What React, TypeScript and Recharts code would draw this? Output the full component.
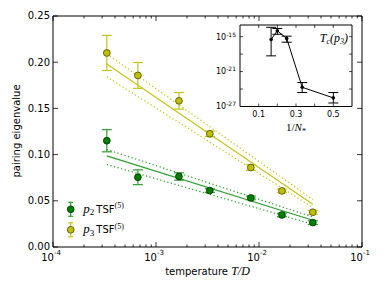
import { ScatterChart, Scatter, XAxis, YAxis, ErrorBar, CartesianGrid } from 'recharts'

// main plot data
const temps = [3.33e-4, 6.67e-4, 1.67e-3, 3.33e-3, 8.33e-3, 1.67e-2, 3.33e-2]
const p2Vals = [0.115, 0.0755, 0.0763, 0.0611, 0.0531, 0.0347, 0.0264]
const p2Errs = [0.012, 0.008, 0.004, 0.002, 0.002, 0.002, 0.002]
const p3Vals = [0.21, 0.1857, 0.1582, 0.1225, 0.086, 0.0607, 0.0376]
const p3Errs = [0.019, 0.014, 0.009, 0.003, 0.003, 0.002, 0.002]

// fit lines (end points)
const fitT = [3.33e-4, 3.33e-2]
const p2Fit = [0.0986, 0.0289]
const p2FitHi = [0.1055, 0.0325]
const p2FitLo = [0.0893, 0.0246]
const p3Fit = [0.198, 0.0463]
const p3FitHi = [0.209, 0.0514]
const p3FitLo = [0.1842, 0.0427]

// inset data
const invN = [1 / 6, 1 / 5, 1 / 4, 1 / 3, 1 / 2]
const tcVals = [3.3e-16, 1e-14, 5e-16, 2e-24, 3e-26]
const tcLo = [5e-19, 2.5e-15, 1.1e-16, 2.5e-25, 4e-27]
const tcHi = [4e-14, 2.5e-14, 1.2e-15, 1.3e-23, 2.5e-25]

// ticks
const xMajor = [1e-4, 1e-3, 1e-2, 1e-1]
const xMinor = [1e-4, 1e-3, 1e-2].flatMap(d => [2, 3, 4, 5, 6, 7, 8, 9].map(m => m * d))
const xTicks = [...xMajor, ...xMinor].sort((a, b) => a - b)
const yTicks = [0, 0.05, 0.1, 0.15, 0.2, 0.25]
const insetXTicks = [0.1, 0.2, 0.3, 0.4, 0.5]
const insetXLabels = [0.1, 0.3, 0.5]
const insetYTicks = [1e-27, 1e-24, 1e-21, 1e-18, 1e-15]
const insetYLabels = [-27, -21, -15]

const YEL = '#bfbf00'
const YEL_LINE = '#c4c41a'
const GRN = '#007f00'
const GRN_LINE = '#2f9f2f'
const SANS = 'DejaVu Sans'
const SERIF = 'Liberation Serif'

const p2Data = temps.map((t, i) => ({ t, v: p2Vals[i], e: p2Errs[i] }))
const p3Data = temps.map((t, i) => ({ t, v: p3Vals[i], e: p3Errs[i] }))
const line = (vals: number[]) => fitT.map((t, i) => ({ t, v: vals[i] }))
const insetData = invN.map((x, i) => ({ x, y: tcVals[i], e: [tcVals[i] - tcLo[i], tcHi[i] - tcVals[i]] }))

const isDecade = (v: number) => Math.abs(Math.log10(v) - Math.round(Math.log10(v))) < 1e-6

const BottomTick = (props: any) => {
  const { x, y, payload } = props
  const major = isDecade(payload.value)
  return (
    <g>
      <line x1={x} x2={x} y1={y} y2={y - (major ? 5 : 2.5)} stroke="#000" strokeWidth={0.8} />
      {major && (
        <text x={x - 2} y={y + 13.5} textAnchor="middle" fontSize={10} fontFamily={SANS} fill="#000">
          10<tspan dy={-5.5} fontSize={7}>{Math.round(Math.log10(payload.value))}</tspan>
        </text>
      )}
    </g>
  )
}

const TopTick = (props: any) => {
  const { x, y, payload } = props
  const major = isDecade(payload.value)
  return <line x1={x} x2={x} y1={y} y2={y + (major ? 5 : 2.5)} stroke="#000" strokeWidth={0.8} />
}

const LeftTick = (props: any) => {
  const { x, y, payload } = props
  return (
    <g>
      <line x1={x} x2={x + 5} y1={y} y2={y} stroke="#000" strokeWidth={0.8} />
      <text x={x - 3} y={y} dy="0.33em" textAnchor="end" fontSize={10} fontFamily={SANS} fill="#000">
        {payload.value.toFixed(2)}
      </text>
    </g>
  )
}

const RightTick = (props: any) => {
  const { x, y } = props
  return <line x1={x} x2={x - 5} y1={y} y2={y} stroke="#000" strokeWidth={0.8} />
}

const InsetBottomTick = (props: any) => {
  const { x, y, payload } = props
  const lab = insetXLabels.some(l => Math.abs(l - payload.value) < 1e-9)
  return (
    <g>
      <line x1={x} x2={x} y1={y} y2={y - 3} stroke="#000" strokeWidth={0.7} />
      {lab && (
        <text x={x} y={y + 10} textAnchor="middle" fontSize={8} fontFamily={SANS} fill="#000">
          {payload.value.toFixed(1)}
        </text>
      )}
    </g>
  )
}

const InsetTopTick = (props: any) => {
  const { x, y } = props
  return <line x1={x} x2={x} y1={y} y2={y + 3} stroke="#000" strokeWidth={0.7} />
}

const InsetLeftTick = (props: any) => {
  const { x, y, payload } = props
  const exp = Math.round(Math.log10(payload.value))
  const lab = insetYLabels.includes(exp)
  return (
    <g>
      <line x1={x} x2={x + 3} y1={y} y2={y} stroke="#000" strokeWidth={0.7} />
      {lab && (
        <text x={x - 4} y={y} dy="0.36em" textAnchor="end" fontSize={8} fontFamily={SANS} fill="#000">
          10<tspan dy={-3} fontSize={6}>{exp}</tspan>
        </text>
      )}
    </g>
  )
}

const InsetRightTick = (props: any) => {
  const { x, y } = props
  return <line x1={x} x2={x - 3} y1={y} y2={y} stroke="#000" strokeWidth={0.7} />
}

const dot = (fill: string, stroke: string) => (p: any) => (
  <circle cx={p.cx} cy={p.cy} r={3.4} fill={fill} stroke={stroke} strokeWidth={0.8} />
)
const noDot = () => <g />

export default function App() {
  return (
    <div style={{ position: 'absolute', left: 0, top: 0, width: 386, height: 290, background: '#fff' }}>
      <ScatterChart width={386} height={290} margin={{ top: 15, right: 23, bottom: 42, left: 52 }}>
        <XAxis dataKey="t" type="number" scale="log" domain={[1e-4, 1e-1]} ticks={xTicks} interval={0}
          height={1} tickSize={0} tickMargin={0} tick={<BottomTick />} stroke="#000" allowDataOverflow />
        <XAxis xAxisId="top" orientation="top" dataKey="t" type="number" scale="log" domain={[1e-4, 1e-1]}
          ticks={xTicks} interval={0} height={1} tickSize={0} tickMargin={0} tick={<TopTick />} stroke="#000" allowDataOverflow />
        <YAxis dataKey="v" type="number" domain={[0, 0.25]} ticks={yTicks} interval={0} width={1}
          tickSize={0} tickMargin={0} tick={<LeftTick />} stroke="#000" allowDataOverflow />
        <YAxis yAxisId="r" orientation="right" dataKey="v" type="number" domain={[0, 0.25]} ticks={yTicks}
          interval={0} width={1} tickSize={0} tickMargin={0} tick={<RightTick />} stroke="#000" allowDataOverflow />

        <Scatter data={line(p3Fit)} line={{ stroke: YEL_LINE, strokeWidth: 1.2 }} lineType="joint" shape={noDot} isAnimationActive={false} />
        <Scatter data={line(p3FitHi)} line={{ stroke: YEL_LINE, strokeWidth: 1.2, strokeDasharray: '1.3 2.4' }} lineType="joint" shape={noDot} isAnimationActive={false} />
        <Scatter data={line(p3FitLo)} line={{ stroke: YEL_LINE, strokeWidth: 1.2, strokeDasharray: '1.3 2.4' }} lineType="joint" shape={noDot} isAnimationActive={false} />
        <Scatter data={line(p2Fit)} line={{ stroke: GRN_LINE, strokeWidth: 1.2 }} lineType="joint" shape={noDot} isAnimationActive={false} />
        <Scatter data={line(p2FitHi)} line={{ stroke: GRN_LINE, strokeWidth: 1.2, strokeDasharray: '1.3 2.4' }} lineType="joint" shape={noDot} isAnimationActive={false} />
        <Scatter data={line(p2FitLo)} line={{ stroke: GRN_LINE, strokeWidth: 1.2, strokeDasharray: '1.3 2.4' }} lineType="joint" shape={noDot} isAnimationActive={false} />

        <Scatter data={p3Data} shape={dot(YEL, '#4a4a00')} isAnimationActive={false}>
          <ErrorBar dataKey="e" direction="y" width={5} stroke={YEL_LINE} strokeWidth={1.2} />
        </Scatter>
        <Scatter data={p2Data} shape={dot(GRN, '#003000')} isAnimationActive={false}>
          <ErrorBar dataKey="e" direction="y" width={5} stroke={GRN_LINE} strokeWidth={1.2} />
        </Scatter>
      </ScatterChart>

      <div style={{ position: 'absolute', left: 200, top: 10 }}>
        <ScatterChart width={170} height={130} margin={{ top: 14, right: 17, bottom: 32.5, left: 39 }}>
          <CartesianGrid horizontal={false} vertical={false} fill="#fff" />
          <XAxis dataKey="x" type="number" domain={[0, 0.6]} ticks={insetXTicks} interval={0} height={1}
            tickSize={0} tickMargin={0} tick={<InsetBottomTick />} stroke="#000" allowDataOverflow />
          <XAxis xAxisId="top" orientation="top" dataKey="x" type="number" domain={[0, 0.6]} ticks={insetXTicks}
            interval={0} height={1} tickSize={0} tickMargin={0} tick={<InsetTopTick />} stroke="#000" allowDataOverflow />
          <YAxis dataKey="y" type="number" scale="log" domain={[1e-27, 1e-13]} ticks={insetYTicks} interval={0}
            width={1} tickSize={0} tickMargin={0} tick={<InsetLeftTick />} stroke="#000" allowDataOverflow />
          <YAxis yAxisId="r" orientation="right" dataKey="y" type="number" scale="log" domain={[1e-27, 1e-13]}
            ticks={insetYTicks} interval={0} width={1} tickSize={0} tickMargin={0} tick={<InsetRightTick />} stroke="#000" allowDataOverflow />
          <Scatter data={insetData} line={{ stroke: '#000', strokeWidth: 1 }} lineType="joint"
            shape={(p: any) => <circle cx={p.cx} cy={p.cy} r={1.8} fill="#000" />} isAnimationActive={false}>
            <ErrorBar dataKey="e" direction="y" width={5} stroke="#000" strokeWidth={1} />
          </Scatter>
        </ScatterChart>
      </div>

      <svg width={386} height={290} style={{ position: 'absolute', left: 0, top: 0, pointerEvents: 'none' }}>
        {/* axis labels */}
        <text x={16} y={131} transform="rotate(-90 16 131)" textAnchor="middle" dominantBaseline="central"
          fontSize={10} fontFamily={SANS} fill="#000">pairing eigenvalue</text>
        <text x={207.5} y={275} textAnchor="middle" fontSize={10} fontFamily={SANS} fill="#000">
          temperature <tspan fontFamily={SERIF} fontStyle="italic" fontSize={12}>T/D</tspan>
        </text>
        {/* inset labels */}
        <text x={296} y={131} textAnchor="middle" fontFamily={SERIF} fontSize={11} fill="#000">
          1/<tspan fontStyle="italic">N</tspan><tspan fontSize={8} dy={3}>*</tspan>
        </text>
        <text x={348} y={42} textAnchor="end" fontFamily={SERIF} fontStyle="italic" fontSize={12} fill="#000">
          T<tspan fontSize={8} dy={2}>c</tspan><tspan dy={-2}>(p</tspan><tspan fontSize={8} dy={2}>3</tspan><tspan dy={-2}>)</tspan>
        </text>
        {/* legend */}
        {[{ c: GRN, l: GRN_LINE, e: '#003000', s: '2', y: 209.3 }, { c: YEL, l: YEL_LINE, e: '#4a4a00', s: '3', y: 229.8 }].map(r => (
          <g key={r.s}>
            <line x1={70.7} x2={70.7} y1={r.y - 7} y2={r.y + 7} stroke={r.l} strokeWidth={1.2} />
            <line x1={68.2} x2={73.2} y1={r.y - 7} y2={r.y - 7} stroke={r.l} strokeWidth={1.2} />
            <line x1={68.2} x2={73.2} y1={r.y + 7} y2={r.y + 7} stroke={r.l} strokeWidth={1.2} />
            <circle cx={70.7} cy={r.y} r={3.4} fill={r.c} stroke={r.e} strokeWidth={0.8} />
            <text x={83.3} y={r.y + 3.3} fontFamily={SERIF} fontSize={13} fill="#000">
              <tspan fontStyle="italic">p</tspan><tspan fontSize={9} dy={2.5}>{r.s}</tspan>
              <tspan dy={-2.5} dx={2} fontFamily={SANS} fontSize={10}>TSF</tspan>
              <tspan dy={-4.5} fontSize={8}>(5)</tspan>
            </text>
          </g>
        ))}
      </svg>
    </div>
  )
}
